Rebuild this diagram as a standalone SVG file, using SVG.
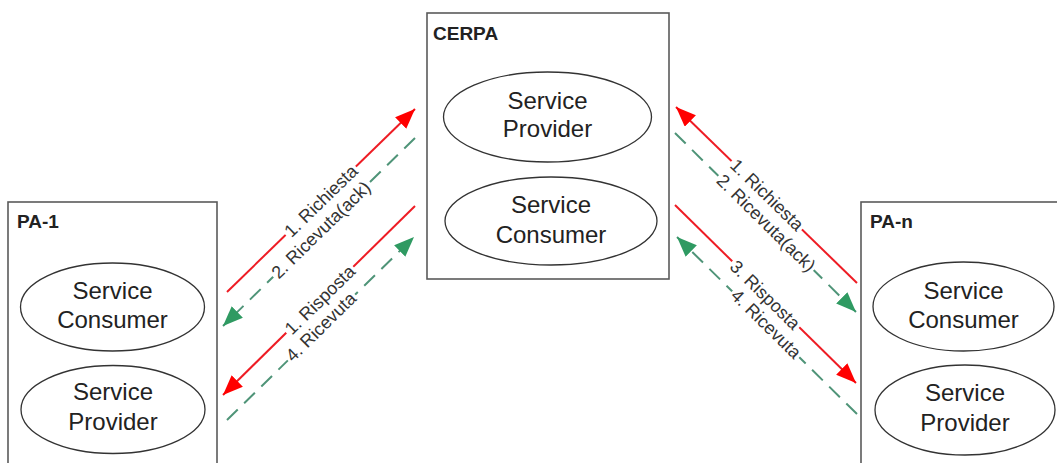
<svg xmlns="http://www.w3.org/2000/svg" width="1057" height="463" viewBox="0 0 1057 463">
<defs>
<style>
.box{fill:#fff;stroke:#5a5a5a;stroke-width:1.6}
.ell{fill:#fff;stroke:#333;stroke-width:1.3}
.title{font-family:"Liberation Sans",Arial,sans-serif;font-weight:bold;font-size:19px;fill:#222}
.svc{font-family:"Liberation Sans",Arial,sans-serif;font-size:24px;fill:#222;text-anchor:middle}
.red{stroke:#ee1c24;stroke-width:2;fill:none}
.grn{stroke:#4f9478;stroke-width:2;fill:none;stroke-dasharray:15 9}
.bg{fill:#fff}
.lbl{font-family:"Liberation Sans",Arial,sans-serif;font-size:18px;fill:#333;text-anchor:middle}
</style>
<marker id="ar" markerUnits="userSpaceOnUse" markerWidth="22" markerHeight="18" refX="20" refY="8" orient="auto">
<path d="M0,0 L20,8 L0,16 Z" fill="#ff0000"/>
</marker>
<marker id="ag" markerUnits="userSpaceOnUse" markerWidth="22" markerHeight="18" refX="20" refY="8" orient="auto">
<path d="M0,0 L20,8 L0,16 Z" fill="#2f9a62"/>
</marker>
</defs>
<rect width="1057" height="463" fill="#fff"/>

<g id="cerpa">
<rect class="box" x="427" y="13" width="242" height="266"/>
<text class="title" x="433" y="40">CERPA</text>
</g>
<g id="cerpa-provider">
<ellipse class="ell" cx="547.5" cy="117" rx="104" ry="45"/>
<text class="svc" x="547.5" y="109">Service</text>
<text class="svc" x="547.5" y="137">Provider</text>
</g>
<g id="cerpa-consumer">
<ellipse class="ell" cx="551" cy="221" rx="106" ry="44"/>
<text class="svc" x="551" y="213">Service</text>
<text class="svc" x="551" y="243">Consumer</text>
</g>

<g id="pa1">
<rect class="box" x="8" y="202" width="209" height="280"/>
<text class="title" x="17" y="228">PA-1</text>
</g>
<g id="pa1-consumer">
<ellipse class="ell" cx="112.5" cy="307" rx="92" ry="44"/>
<text class="svc" x="112.5" y="299">Service</text>
<text class="svc" x="112.5" y="328">Consumer</text>
</g>
<g id="pa1-provider">
<ellipse class="ell" cx="113" cy="409.5" rx="92" ry="44"/>
<text class="svc" x="113" y="400">Service</text>
<text class="svc" x="113" y="430">Provider</text>
</g>

<g id="pan">
<rect class="box" x="861" y="202" width="210" height="280"/>
<text class="title" x="870" y="228">PA-n</text>
</g>
<g id="pan-consumer">
<ellipse class="ell" cx="963.5" cy="306.5" rx="90.5" ry="44.5"/>
<text class="svc" x="963.5" y="299">Service</text>
<text class="svc" x="963.5" y="328">Consumer</text>
</g>
<g id="pan-provider">
<ellipse class="ell" cx="965" cy="410" rx="90" ry="45"/>
<text class="svc" x="965" y="401">Service</text>
<text class="svc" x="965" y="431">Provider</text>
</g>

<g id="connectors">
<line class="red" x1="227" y1="292" x2="415" y2="109" marker-end="url(#ar)"/>
<line class="grn" x1="415" y1="138" x2="223" y2="326" marker-end="url(#ag)"/>
<line class="red" x1="415" y1="206" x2="223" y2="395" marker-end="url(#ar)"/>
<line class="grn" x1="227" y1="420" x2="414" y2="237" marker-end="url(#ag)"/>

<line class="red" x1="857" y1="283" x2="676" y2="107" marker-end="url(#ar)"/>
<line class="grn" x1="675" y1="133" x2="856" y2="312" marker-end="url(#ag)"/>
<line class="red" x1="675" y1="205" x2="856" y2="383" marker-end="url(#ar)"/>
<line class="grn" x1="857" y1="414" x2="677" y2="237" marker-end="url(#ag)"/>

<g transform="translate(321,201) rotate(-44.3)"><rect class="bg" x="-49" y="-8" width="98" height="16"/><text class="lbl" y="6">1. Richiesta</text></g>
<g transform="translate(321,230) rotate(-44.3)"><rect class="bg" x="-67" y="-8" width="134" height="16"/><text class="lbl" y="6">2. Ricevuta(ack)</text></g>
<g transform="translate(320,300) rotate(-44.5)"><rect class="bg" x="-47" y="-8" width="94" height="16"/><text class="lbl" y="6">1. Risposta</text></g>
<g transform="translate(321,327) rotate(-44.5)"><rect class="bg" x="-47" y="-8" width="94" height="16"/><text class="lbl" y="6">4. Ricevuta</text></g>

<g transform="translate(767,195) rotate(44.2)"><rect class="bg" x="-49" y="-8" width="98" height="16"/><text class="lbl" y="6">1. Richiesta</text></g>
<g transform="translate(766,223) rotate(44.5)"><rect class="bg" x="-67" y="-8" width="134" height="16"/><text class="lbl" y="6">2. Ricevuta(ack)</text></g>
<g transform="translate(765,295) rotate(44.5)"><rect class="bg" x="-47" y="-8" width="94" height="16"/><text class="lbl" y="6">3. Risposta</text></g>
<g transform="translate(766,324) rotate(44.5)"><rect class="bg" x="-47" y="-8" width="94" height="16"/><text class="lbl" y="6">4. Ricevuta</text></g>
</g>
</svg>
